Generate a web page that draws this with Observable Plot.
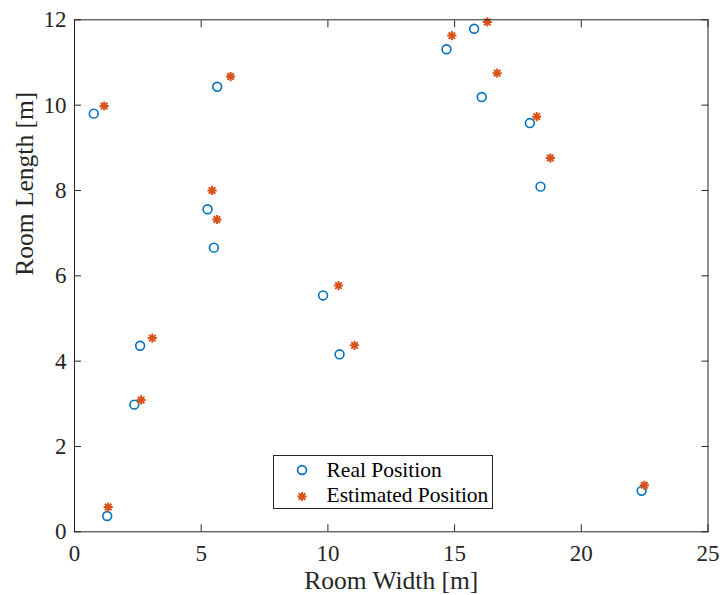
<!DOCTYPE html>
<html>
<head>
<meta charset="utf-8">
<script src="https://cdn.jsdelivr.net/npm/d3@7"></script>
<script src="https://cdn.jsdelivr.net/npm/@observablehq/plot@0.6"></script>
<style>
  body { margin: 0; background: #fff; }
  #chart { position: relative; width: 720px; height: 595px; overflow: hidden; }
  #legend { position: absolute; left: 273px; top: 455px; }
</style>
</head>
<body>
<div id="chart"></div>
<script>
// Measured anchor positions (metres)
const realX = [0.76, 5.63, 5.25, 5.50, 9.81, 10.46, 2.59, 2.36, 1.29, 14.68, 15.77, 16.07, 17.97, 18.39, 22.38];
const realY = [9.80, 10.43, 7.56, 6.66, 5.54, 4.16, 4.36, 2.98, 0.37, 11.31, 11.79, 10.19, 9.58, 8.09, 0.96];

// Positions returned by the estimator (metres)
const estX = [1.17, 6.16, 5.43, 5.62, 10.42, 11.05, 3.07, 2.63, 1.33, 14.89, 16.29, 16.68, 18.24, 18.78, 22.49];
const estY = [9.98, 10.67, 8.00, 7.32, 5.77, 4.37, 4.54, 3.09, 0.58, 11.63, 11.95, 10.75, 9.73, 8.76, 1.09];

const xTicks = [0, 5, 10, 15, 20, 25];
const yTicks = [0, 2, 4, 6, 8, 10, 12];
const seriesNames = ["Real Position", "Estimated Position"];
const axisLabels = { x: "Room Width [m]", y: "Room Length [m]" };

const real = realX.map((x, i) => ({x, y: realY[i]}));
const est = estX.map((x, i) => ({x, y: estY[i]}));

const blue = "#0072BD";
const orange = "#D95319";
const ink = "#262626";

// Eight-armed asterisk (a "+" laid over an "x")
const asterisk = {
  draw(context, size) {
    const r = Math.sqrt(size / Math.PI);
    const d = r * Math.SQRT1_2;
    context.moveTo(-r, 0); context.lineTo(r, 0);
    context.moveTo(0, -r); context.lineTo(0, r);
    context.moveTo(-d, -d); context.lineTo(d, d);
    context.moveTo(-d, d); context.lineTo(d, -d);
  }
};

const blank = () => "";

const chart = Plot.plot({
  width: 720,
  height: 595,
  marginLeft: 74,
  marginRight: 12.5,
  marginTop: 19.3,
  marginBottom: 63.7,
  style: { fontFamily: "'Liberation Serif', 'Times New Roman', serif", fontSize: "23px", color: ink, background: "#fff", overflow: "visible" },
  x: { domain: [0, 25] },
  y: { domain: [0, 12] },
  marks: [
    Plot.dot(real, { x: "x", y: "y", r: 4.4, stroke: blue, strokeWidth: 1.6, fill: "none" }),
    Plot.dot(est, { x: "x", y: "y", r: 4.6, symbol: asterisk, stroke: orange, strokeWidth: 2, fill: "none" }),
    Plot.frame({ stroke: ink, strokeWidth: 1 }),
    // tick labels
    Plot.axisX(xTicks, { anchor: "bottom", tickSize: 0, tickPadding: 13, label: null, fill: ink, fontSize: 23 }),
    Plot.axisY(yTicks, { anchor: "left", tickSize: 0, tickPadding: 8, label: null, fill: ink, fontSize: 23 }),
    // inward ticks on all four sides
    Plot.axisX(xTicks, { anchor: "bottom", tickSize: -7, tickFormat: blank, label: null, stroke: ink }),
    Plot.axisX(xTicks, { anchor: "top", tickSize: -7, tickFormat: blank, label: null, stroke: ink }),
    Plot.axisY(yTicks, { anchor: "left", tickSize: -7, tickFormat: blank, label: null, stroke: ink }),
    Plot.axisY(yTicks, { anchor: "right", tickSize: -7, tickFormat: blank, label: null, stroke: ink }),
    // axis titles
    Plot.text([axisLabels.x], { text: d => d, frameAnchor: "bottom", lineAnchor: "bottom", dy: 57, fontSize: 25.5, fill: ink }),
    Plot.text([axisLabels.y], { text: d => d, frameAnchor: "left", lineAnchor: "bottom", rotate: -90, dx: -42, fontSize: 25.5, fill: ink })
  ]
});

const container = document.getElementById("chart");
container.appendChild(chart);

// Legend box inside the axes
const legend = d3.create("svg")
  .attr("id", "legend")
  .attr("width", 221)
  .attr("height", 55)
  .style("font-family", "'Liberation Serif', 'Times New Roman', serif")
  .style("font-size", "21.5px");

legend.append("rect")
  .attr("x", 0.5).attr("y", 0.5)
  .attr("width", 219).attr("height", 53)
  .attr("fill", "#fff").attr("stroke", ink);

legend.append("circle")
  .attr("cx", 29).attr("cy", 15).attr("r", 4.4)
  .attr("fill", "none").attr("stroke", blue).attr("stroke-width", 1.6);

legend.append("path")
  .attr("transform", "translate(29,41.5)")
  .attr("d", d3.symbol(asterisk, Math.PI * 4.6 * 4.6)())
  .attr("fill", "none").attr("stroke", orange).attr("stroke-width", 2);

seriesNames.forEach((name, i) => {
  legend.append("text")
    .attr("x", 53.5).attr("y", i === 0 ? 22.3 : 47.3)
    .attr("fill", "#000")
    .text(name);
});

container.appendChild(legend.node());
</script>
</body>
</html>
